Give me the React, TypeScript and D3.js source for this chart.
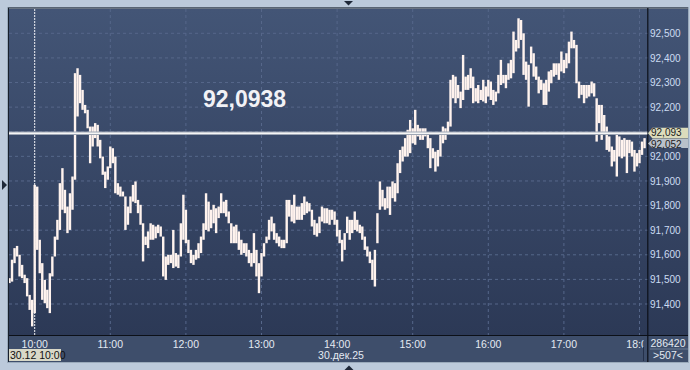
import React from "react";
import * as d3 from "d3";

// 2-minute bars starting at 09:40 (high / low)
const highs = [
  91505, 91580, 91627, 91636, 91600, 91559, 91519, 91505, 91437, 91417,
  91884, 91877, 91661, 91566, 91498, 91458, 91525, 91593, 91674, 91742,
  91891, 91952, 91864, 91796, 91850, 91918, 92338, 92358, 92331, 92270,
  92209, 92189, 92121, 92121, 92135, 92128, 92067, 91999, 91938, 91959,
  92040, 92033, 91999, 91891, 91877, 91857, 91837, 91796, 91837, 91884,
  91898, 91823, 91803, 91728, 91674, 91695, 91728, 91722, 91715, 91722,
  91715, 91674, 91593, 91600, 91600, 91701, 91607, 91600, 91728, 91844,
  91783, 91661, 91620, 91600, 91620, 91647, 91674, 91728, 91850, 91816,
  91783, 91803, 91789, 91796, 91850, 91816, 91823, 91776, 91728, 91715,
  91722, 91695, 91661, 91647, 91647, 91620, 91607, 91688, 91620, 91566,
  91607, 91647, 91674, 91742, 91755, 91728, 91688, 91674, 91661, 91661,
  91823, 91823, 91803, 91844, 91796, 91796, 91810, 91837, 91816, 91810,
  91783, 91742, 91728, 91755, 91796, 91789, 91789, 91783, 91783, 91776,
  91742, 91701, 91661, 91688, 91755, 91742, 91742, 91776, 91742, 91722,
  91715, 91674, 91634, 91613, 91580, 91620, 91769, 91898, 91864, 91830,
  91877, 91877, 91898, 91891, 91972, 92026, 92040, 92074, 92108, 92148,
  92114, 92189, 92128, 92114, 92114, 92114, 92094, 92074, 92033, 92019,
  92026, 92087, 92121, 92114, 92141, 92311, 92331, 92324, 92290, 92263,
  92412, 92324, 92331, 92358, 92324, 92277, 92290, 92270, 92311, 92284,
  92311, 92304, 92270, 92263, 92331, 92392, 92331, 92331, 92378, 92392,
  92507, 92473, 92561, 92554, 92500, 92385, 92372, 92446, 92419, 92365,
  92324, 92311, 92297, 92311, 92345, 92351, 92378, 92378, 92378, 92426,
  92392, 92419, 92466, 92507, 92473, 92453, 92304, 92290, 92290, 92290,
  92290, 92304, 92297, 92236, 92209, 92209, 92168, 92121, 92081, 92040,
  92026, 92087, 92081, 92067, 92074, 92067, 92067, 92060, 92026, 92013,
  92026, 92060, 92074,
];
const lows = [
  91485, 91491, 91566, 91593, 91512, 91505, 91485, 91431, 91376, 91309,
  91363, 91620, 91525, 91417, 91403, 91383, 91363, 91512, 91593, 91661,
  91701, 91783, 91769, 91688, 91701, 91783, 91905, 92162, 92216, 92189,
  92175, 92114, 91972, 92040, 92074, 92040, 91992, 91925, 91871, 91905,
  91952, 91972, 91850, 91844, 91837, 91837, 91701, 91722, 91769, 91816,
  91810, 91769, 91722, 91573, 91640, 91627, 91661, 91661, 91667, 91688,
  91674, 91512, 91498, 91559, 91566, 91546, 91552, 91546, 91593, 91661,
  91647, 91607, 91566, 91559, 91580, 91586, 91607, 91661, 91701, 91695,
  91708, 91728, 91688, 91749, 91769, 91769, 91755, 91728, 91647, 91647,
  91647, 91620, 91600, 91607, 91593, 91566, 91552, 91566, 91512, 91444,
  91512, 91593, 91647, 91661, 91695, 91661, 91647, 91634, 91627, 91627,
  91647, 91755, 91735, 91728, 91742, 91742, 91742, 91762, 91769, 91776,
  91715, 91681, 91674, 91688, 91735, 91728, 91728, 91722, 91742, 91722,
  91674, 91647, 91573, 91620, 91688, 91661, 91688, 91701, 91695, 91688,
  91661, 91620, 91593, 91566, 91498, 91471, 91647, 91783, 91796, 91783,
  91789, 91762, 91830, 91816, 91850, 91932, 91979, 91999, 91999, 92013,
  92053, 92047, 92081, 92067, 92067, 92081, 92033, 91952, 91992, 91938,
  91959, 91999, 92053, 92067, 92094, 92121, 92236, 92216, 92236, 92196,
  92229, 92270, 92270, 92277, 92216, 92223, 92216, 92229, 92223, 92216,
  92243, 92229, 92209, 92223, 92256, 92290, 92297, 92277, 92311, 92317,
  92338, 92426, 92439, 92473, 92331, 92311, 92202, 92378, 92324, 92311,
  92256, 92270, 92209, 92209, 92263, 92297, 92324, 92331, 92311, 92345,
  92338, 92358, 92378, 92439, 92439, 92297, 92236, 92250, 92216, 92236,
  92243, 92256, 92243, 92060, 92135, 92067, 92094, 92026, 92019, 91959,
  91979, 91918, 91999, 91992, 91999, 91932, 92013, 91999, 91938, 91959,
  91972, 92006, 92033,
];
const firstBarTime = "09:40";
const barStepMinutes = 2;

const xTickLabels = ["10:00", "11:00", "12:00", "13:00", "14:00", "15:00", "16:00", "17:00", "18:00"];
const yTickValues = [91400, 91500, 91600, 91700, 91800, 91900, 92000, 92100, 92200, 92300, 92400, 92500];

const currentPrice = 92093.8;
const currentPriceText = "92,0938";
const currentPriceLabel = "92,093";
const lastPrice = 92052;
const lastPriceLabel = "92,052";
const cursorTime = "10:00";
const cursorLabel = "30.12 10:00";
const dateLabel = "30.дек.25";
const volumeText = "286420";
const countText = ">507<";

const toMin = (s: string) => {
  const [h, m] = s.split(":").map(Number);
  return h * 60 + m;
};

export default function App() {
  const W = 690, H = 370;
  const plotL = 9, plotR = 647.5, plotT = 9, plotB = 335;
  const axisB = 362, panelR = 688;
  const x = d3.scaleLinear().domain([toMin("10:00"), toMin("18:00")]).range([34.7, 639.5]);
  const y = d3.scaleLinear().domain([91400, 92500]).range([304, 33.3]);
  const fmt = d3.format(",");
  const t0 = toMin(firstBarTime);
  const font = "'Liberation Sans', Arial, sans-serif";
  const yCur = y(currentPrice);
  const yLast = y(lastPrice);

  return (
    <svg width={W} height={H} style={{ position: "fixed", left: 0, top: 0 }} fontFamily={font}>
      <defs>
        <linearGradient id="bg" x1="0" y1="0" x2="0" y2="1">
          <stop offset="0" stopColor="#435576" />
          <stop offset="1" stopColor="#2c3956" />
        </linearGradient>
        <clipPath id="plotClip">
          <rect x={plotL} y={plotT} width={plotR - plotL} height={plotB - plotT} />
        </clipPath>
        <clipPath id="xClip">
          <rect x={plotL} y={plotB} width={643.5 - plotL} height={axisB - plotB} />
        </clipPath>
      </defs>
      {/* frame */}
      <rect x={0} y={0} width={W} height={H} fill="#bccadb" />
      <rect x={7.5} y={7.5} width={panelR - 7} height={axisB - 7} fill="none" stroke="#9aaabb" />
      {/* plot background */}
      <rect x={plotL} y={plotT} width={panelR - plotL} height={plotB - plotT} fill="url(#bg)" />
      {/* x-axis strip */}
      <rect x={plotL} y={plotB} width={panelR - plotL} height={axisB - plotB} fill="#3e4e6b" />
      {/* borders */}
      <line x1={8} y1={8} x2={panelR} y2={8} stroke="#18202c" strokeWidth={1} />
      <line x1={8.5} y1={8} x2={8.5} y2={axisB} stroke="#18202c" strokeWidth={1} />
      <line x1={plotL} y1={plotB + 0.5} x2={panelR} y2={plotB + 0.5} stroke="#0c1018" strokeWidth={1.2} />
      <line x1={plotR + 0.3} y1={8} x2={plotR + 0.3} y2={axisB} stroke="#0c1018" strokeWidth={1.2} />

      <g clipPath="url(#plotClip)">
        {/* horizontal grid */}
        {yTickValues.map((v) => (
          <line key={v} x1={plotL} x2={plotR} y1={y(v)} y2={y(v)} stroke="#56678a" strokeWidth={1} strokeDasharray="3,3" />
        ))}
        {/* vertical grid */}
        {xTickLabels.filter((t) => t !== cursorTime).map((t) => (
          <line key={t} x1={x(toMin(t))} x2={x(toMin(t))} y1={plotT} y2={plotB} stroke="#56678a" strokeWidth={1} strokeDasharray="3,3" />
        ))}
        {/* cursor line */}
        <line x1={x(toMin(cursorTime))} x2={x(toMin(cursorTime))} y1={plotT} y2={plotB} stroke="#f0f0f4" strokeWidth={1} strokeDasharray="2,1" />
        {/* bars */}
        {highs.map((h, i) => {
          const l = lows[i];
          const cx = x(t0 + i * barStepMinutes);
          const yt = y(h);
          const yb = y(l);
          return <rect key={i} x={cx - 1.2} y={yt} width={2.4} height={Math.max(1, yb - yt)} fill="#fff3ee" />;
        })}
        {/* current price line */}
        <line x1={plotL} x2={plotR} y1={yCur} y2={yCur} stroke="#9ea6b4" strokeWidth={3.6} />
        <line x1={plotL} x2={plotR} y1={yCur} y2={yCur} stroke="#f6f6f6" strokeWidth={1.6} />
      </g>

      {/* big price text */}
      <text x={203} y={106.5} fontSize={23} fontWeight="bold" fill="#f2f2f6">{currentPriceText}</text>

      {/* y labels */}
      {yTickValues.filter((v) => Math.abs(y(v) - yCur) > 8).map((v) => (
        <text key={v} x={650} y={y(v) + 3.6} fontSize={10} fill="#cddcf2">{fmt(v)}</text>
      ))}
      {/* price labels */}
      <path d={`M${plotR + 0.5},${yCur} L${plotR + 5},${yCur - 5.5} H${panelR} V${yCur + 5.3} H${plotR + 5} Z`} fill="#dcdcbc" />
      <text x={651} y={yCur + 2.9} fontSize={10} fill="#202020">{currentPriceLabel}</text>
      <path d={`M${plotR + 0.5},${yLast} L${plotR + 5},${yLast - 4.5} H${panelR} V${yLast + 4.5} H${plotR + 5} Z`} fill="#b9c1ca" />
      <text x={651} y={yLast + 4.4} fontSize={10} fill="#202020">{lastPriceLabel}</text>

      {/* x labels */}
      <g clipPath="url(#xClip)">
        {xTickLabels.map((t) => (
          <text key={t} x={x(toMin(t))} y={347.5} fontSize={10.5} fill="#e4eaf2" textAnchor="middle">{t}</text>
        ))}
      </g>
      <line x1={643.5} x2={643.5} y1={347} y2={361} stroke="#24304a" strokeWidth={1} />
      <rect x={plotL} y={349} width={52} height={12} fill="#d8d8c8" />
      <text x={10} y={359} fontSize={10.5} fill="#101010">{cursorLabel}</text>
      <text x={341} y={359} fontSize={10.5} fill="#e4eaf2" textAnchor="middle">{dateLabel}</text>

      {/* bottom-right cell */}
      <text x={668} y={346.5} fontSize={10.5} fill="#e4eaf2" textAnchor="middle">{volumeText}</text>
      <line x1={650} x2={panelR} y1={349} y2={349} stroke="#6a7a94" strokeWidth={1} />
      <text x={668} y={359} fontSize={10.5} fill="#e4eaf2" textAnchor="middle">{countText}</text>

      {/* markers */}
      <path d="M2,180 L7,185 L2,190 Z" fill="#1e2838" />
      <path d="M344,1 L353,1 L348.5,5.5 Z" fill="#1e2838" />
      <path d="M344.5,370 L349,365.5 L353.5,370 Z" fill="#1e2838" />
    </svg>
  );
}
